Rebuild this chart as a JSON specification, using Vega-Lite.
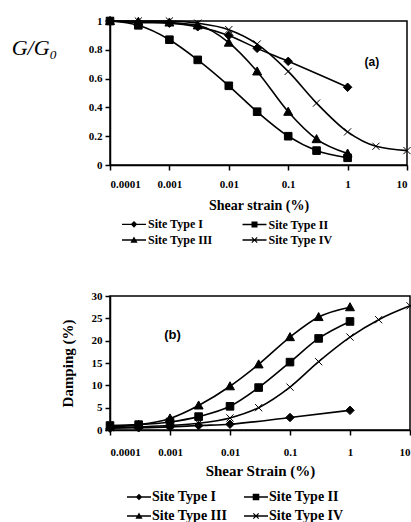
{
  "$schema": "https://vega.github.io/schema/vega-lite/v6.json",
  "padding": {"left": 10, "top": 13, "right": 0, "bottom": 0},
  "spacing": 41,
  "background": "white",
  "datasets": {
    "g": [
      {"type": "Site Type I", "strain": 0.0001, "value": 1.0},
      {"type": "Site Type I", "strain": 0.0003, "value": 0.99},
      {"type": "Site Type I", "strain": 0.001, "value": 0.985},
      {"type": "Site Type I", "strain": 0.003, "value": 0.96},
      {"type": "Site Type I", "strain": 0.01, "value": 0.9},
      {"type": "Site Type I", "strain": 0.03, "value": 0.81},
      {"type": "Site Type I", "strain": 0.1, "value": 0.72},
      {"type": "Site Type I", "strain": 1, "value": 0.54},
      {"type": "Site Type II", "strain": 0.0001, "value": 1.0},
      {"type": "Site Type II", "strain": 0.0003, "value": 0.97},
      {"type": "Site Type II", "strain": 0.001, "value": 0.87},
      {"type": "Site Type II", "strain": 0.003, "value": 0.73},
      {"type": "Site Type II", "strain": 0.01, "value": 0.55},
      {"type": "Site Type II", "strain": 0.03, "value": 0.37},
      {"type": "Site Type II", "strain": 0.1, "value": 0.2},
      {"type": "Site Type II", "strain": 0.3, "value": 0.1},
      {"type": "Site Type II", "strain": 1, "value": 0.05},
      {"type": "Site Type III", "strain": 0.0001, "value": 1.0},
      {"type": "Site Type III", "strain": 0.0003, "value": 0.995},
      {"type": "Site Type III", "strain": 0.001, "value": 0.99},
      {"type": "Site Type III", "strain": 0.003, "value": 0.97},
      {"type": "Site Type III", "strain": 0.01, "value": 0.85},
      {"type": "Site Type III", "strain": 0.03, "value": 0.65},
      {"type": "Site Type III", "strain": 0.1, "value": 0.37},
      {"type": "Site Type III", "strain": 0.3, "value": 0.18},
      {"type": "Site Type III", "strain": 1, "value": 0.08},
      {"type": "Site Type IV", "strain": 0.0001, "value": 1.0},
      {"type": "Site Type IV", "strain": 0.0003, "value": 1.0},
      {"type": "Site Type IV", "strain": 0.001, "value": 1.0},
      {"type": "Site Type IV", "strain": 0.003, "value": 0.985},
      {"type": "Site Type IV", "strain": 0.01, "value": 0.94},
      {"type": "Site Type IV", "strain": 0.03, "value": 0.84},
      {"type": "Site Type IV", "strain": 0.1, "value": 0.65},
      {"type": "Site Type IV", "strain": 0.3, "value": 0.43},
      {"type": "Site Type IV", "strain": 1, "value": 0.23},
      {"type": "Site Type IV", "strain": 3, "value": 0.13},
      {"type": "Site Type IV", "strain": 10, "value": 0.1}
    ],
    "d": [
      {"type": "Site Type I", "strain": 0.0001, "value": 0.4},
      {"type": "Site Type I", "strain": 0.0003, "value": 0.5},
      {"type": "Site Type I", "strain": 0.001, "value": 0.7},
      {"type": "Site Type I", "strain": 0.003, "value": 1.0},
      {"type": "Site Type I", "strain": 0.01, "value": 1.3},
      {"type": "Site Type I", "strain": 0.1, "value": 2.8},
      {"type": "Site Type I", "strain": 1, "value": 4.4},
      {"type": "Site Type II", "strain": 0.0001, "value": 1.0},
      {"type": "Site Type II", "strain": 0.0003, "value": 1.2},
      {"type": "Site Type II", "strain": 0.001, "value": 1.8},
      {"type": "Site Type II", "strain": 0.003, "value": 3.0},
      {"type": "Site Type II", "strain": 0.01, "value": 5.3},
      {"type": "Site Type II", "strain": 0.03, "value": 9.5},
      {"type": "Site Type II", "strain": 0.1, "value": 15.2},
      {"type": "Site Type II", "strain": 0.3, "value": 20.5},
      {"type": "Site Type II", "strain": 1, "value": 24.3},
      {"type": "Site Type III", "strain": 0.0001, "value": 0.7},
      {"type": "Site Type III", "strain": 0.0003, "value": 1.2},
      {"type": "Site Type III", "strain": 0.001, "value": 2.6},
      {"type": "Site Type III", "strain": 0.003, "value": 5.5},
      {"type": "Site Type III", "strain": 0.01, "value": 9.8},
      {"type": "Site Type III", "strain": 0.03, "value": 14.7},
      {"type": "Site Type III", "strain": 0.1, "value": 20.8},
      {"type": "Site Type III", "strain": 0.3, "value": 25.3},
      {"type": "Site Type III", "strain": 1, "value": 27.5},
      {"type": "Site Type IV", "strain": 0.0001, "value": 0.5},
      {"type": "Site Type IV", "strain": 0.0003, "value": 0.7},
      {"type": "Site Type IV", "strain": 0.001, "value": 1.0},
      {"type": "Site Type IV", "strain": 0.003, "value": 1.5},
      {"type": "Site Type IV", "strain": 0.01, "value": 2.7},
      {"type": "Site Type IV", "strain": 0.03, "value": 5.0},
      {"type": "Site Type IV", "strain": 0.1, "value": 9.6},
      {"type": "Site Type IV", "strain": 0.3, "value": 15.3},
      {"type": "Site Type IV", "strain": 1, "value": 20.8},
      {"type": "Site Type IV", "strain": 3, "value": 24.7},
      {"type": "Site Type IV", "strain": 10, "value": 27.8}
    ]
  },
  "vconcat": [
    {
      "width": 297,
      "height": 144,
      "data": {"name": "g"},
      "resolve": {"scale": {"shape": "independent"}, "legend": {"shape": "independent"}},
      "layer": [
        {
          "mark": {"type": "line", "interpolate": "monotone", "color": "black", "strokeWidth": 1.6},
          "encoding": {
            "x": {"field": "strain", "type": "quantitative",
              "scale": {"type": "log", "domain": [0.0001, 10], "nice": false},
              "axis": {"values": [0.0001, 0.001, 0.01, 0.1, 1, 10], "tickCount": 20, "format": "~g", "labelOverlap": false, "title": "Shear strain (%)", "titleFontSize": 14, "labelPadding": 8, "titlePadding": 9}},
            "y": {"field": "value", "type": "quantitative",
              "scale": {"domain": [0, 1], "nice": false},
              "axis": {"values": [0, 0.2, 0.4, 0.6, 0.8, 1], "tickCount": 20, "format": "~g", "labelOverlap": false, "title": "G/G₀", "titleAngle": 0, "titleFont": "Liberation Serif", "titleFontStyle": "italic", "titleFontWeight": "normal", "titleFontSize": 22, "titleAlign": "center", "titleBaseline": "middle", "titleX": -76, "titleY": 26}},
            "detail": {"field": "type"}
          }
        },
        {
          "mark": {"type": "point", "filled": true, "fill": "black", "stroke": "black", "strokeWidth": 1, "opacity": 1, "size": 80},
          "encoding": {
            "x": {"field": "strain", "type": "quantitative"},
            "y": {"field": "value", "type": "quantitative"},
            "shape": {"field": "type", "type": "nominal", "legend": null,
              "scale": {"domain": ["Site Type I", "Site Type II", "Site Type III", "Site Type IV"],
                "range": ["M0,-0.95L0.95,0L0,0.95L-0.95,0Z", "M-0.85,-0.85H0.85V0.85H-0.85Z", "M0,-1L1,0.8H-1Z", "M-0.8,-0.8L0.8,0.8M-0.8,0.8L0.8,-0.8"]}}
          }
        },
        {
          "transform": [{"filter": "datum.strain < 0"}],
          "mark": {"type": "point", "filled": true, "fill": "black", "opacity": 1},
          "encoding": {
            "x": {"field": "strain", "type": "quantitative"},
            "y": {"field": "value", "type": "quantitative"},
            "shape": {"field": "type", "type": "nominal",
              "scale": {"domain": ["Site Type I", "Site Type III", "Site Type II", "Site Type IV"],
                "range": [
                  "M-2,-0.12H2V0.12H-2ZM0,-0.55L0.55,0L0,0.55L-0.55,0Z",
                  "M-2,-0.12H2V0.12H-2ZM0,-0.6L0.6,0.45H-0.6Z",
                  "M-2,-0.12H2V0.12H-2ZM-0.5,-0.5H0.5V0.5H-0.5Z",
                  "M-2,-0.12H2V0.12H-2ZM-0.38,-0.52L0.52,0.38L0.38,0.52L-0.52,-0.38ZM-0.52,0.38L0.38,-0.52L0.52,-0.38L-0.38,0.52Z"]},
              "legend": {"orient": "none", "legendX": 17, "legendY": 196, "columns": 2, "columnPadding": 26.5, "rowPadding": 2, "title": null,
                "symbolSize": 144, "symbolOpacity": 1, "symbolFillColor": "black",
                "labelOffset": 7, "labelFont": "Liberation Serif", "labelFontWeight": "bold", "labelFontSize": 12, "labelColor": "black"}}
          }
        },
        {
          "data": {"values": [{"label": "(a)"}]},
          "mark": {"type": "text", "font": "Liberation Sans", "fontWeight": "bold", "fontSize": 12, "fill": "black"},
          "encoding": {"x": {"datum": 2.57}, "y": {"datum": 0.717}, "text": {"field": "label"}}
        }
      ]
    },
    {
      "width": 300,
      "height": 134,
      "data": {"name": "d"},
      "resolve": {"scale": {"shape": "independent"}, "legend": {"shape": "independent"}},
      "layer": [
        {
          "mark": {"type": "line", "interpolate": "monotone", "color": "black", "strokeWidth": 1.6},
          "encoding": {
            "x": {"field": "strain", "type": "quantitative",
              "scale": {"type": "log", "domain": [0.0001, 10], "nice": false},
              "axis": {"values": [0.0001, 0.001, 0.01, 0.1, 1, 10], "tickCount": 20, "format": "~g", "labelOverlap": false, "title": "Shear Strain (%)", "titleFontSize": 15, "labelPadding": 11, "titlePadding": 6}},
            "y": {"field": "value", "type": "quantitative",
              "scale": {"domain": [0, 30], "nice": false},
              "axis": {"values": [0, 5, 10, 15, 20, 25, 30], "tickCount": 20, "labelOverlap": false, "title": "Damping (%)", "titleFontSize": 15, "titlePadding": 16}},
            "detail": {"field": "type"}
          }
        },
        {
          "mark": {"type": "point", "filled": true, "fill": "black", "stroke": "black", "strokeWidth": 1, "opacity": 1, "size": 80},
          "encoding": {
            "x": {"field": "strain", "type": "quantitative"},
            "y": {"field": "value", "type": "quantitative"},
            "shape": {"field": "type", "type": "nominal", "legend": null,
              "scale": {"domain": ["Site Type I", "Site Type II", "Site Type III", "Site Type IV"],
                "range": ["M0,-0.95L0.95,0L0,0.95L-0.95,0Z", "M-0.85,-0.85H0.85V0.85H-0.85Z", "M0,-1L1,0.8H-1Z", "M-0.8,-0.8L0.8,0.8M-0.8,0.8L0.8,-0.8"]}}
          }
        },
        {
          "transform": [{"filter": "datum.strain < 0"}],
          "mark": {"type": "point", "filled": true, "fill": "black", "opacity": 1},
          "encoding": {
            "x": {"field": "strain", "type": "quantitative"},
            "y": {"field": "value", "type": "quantitative"},
            "shape": {"field": "type", "type": "nominal",
              "scale": {"domain": ["Site Type I", "Site Type III", "Site Type II", "Site Type IV"],
                "range": [
                  "M-2,-0.12H2V0.12H-2ZM0,-0.55L0.55,0L0,0.55L-0.55,0Z",
                  "M-2,-0.12H2V0.12H-2ZM0,-0.6L0.6,0.45H-0.6Z",
                  "M-2,-0.12H2V0.12H-2ZM-0.55,-0.55H0.55V0.55H-0.55Z",
                  "M-2,-0.12H2V0.12H-2ZM-0.38,-0.52L0.52,0.38L0.38,0.52L-0.52,-0.38ZM-0.52,0.38L0.38,-0.52L0.52,-0.38L-0.38,0.52Z"]},
              "legend": {"orient": "none", "legendX": 22, "legendY": 194, "columns": 2, "columnPadding": 13, "rowPadding": 5, "title": null,
                "symbolSize": 144, "symbolOpacity": 1, "symbolFillColor": "black",
                "labelOffset": 6, "labelFont": "Liberation Serif", "labelFontWeight": "bold", "labelFontSize": 14, "labelColor": "black"}}
          }
        },
        {
          "data": {"values": [{"label": "(b)"}]},
          "mark": {"type": "text", "font": "Liberation Sans", "fontWeight": "bold", "fontSize": 13, "fill": "black"},
          "encoding": {"x": {"datum": 0.0011}, "y": {"datum": 21.3}, "text": {"field": "label"}}
        }
      ]
    }
  ],
  "resolve": {"scale": {"shape": "independent", "x": "independent", "y": "independent"}, "legend": {"shape": "independent"}},
  "config": {
    "view": {"stroke": "black", "strokeWidth": 1.5},
    "axis": {"grid": false, "domainColor": "black", "domainWidth": 1.5, "tickColor": "black", "tickWidth": 1.5, "tickSize": 5, "labelOverlap": false,
      "labelFont": "Liberation Serif", "labelFontWeight": "bold", "labelFontSize": 11, "labelColor": "black",
      "titleFont": "Liberation Serif", "titleFontWeight": "bold", "titleColor": "black"},
    "axisY": {"labelPadding": 3}
  }
}
